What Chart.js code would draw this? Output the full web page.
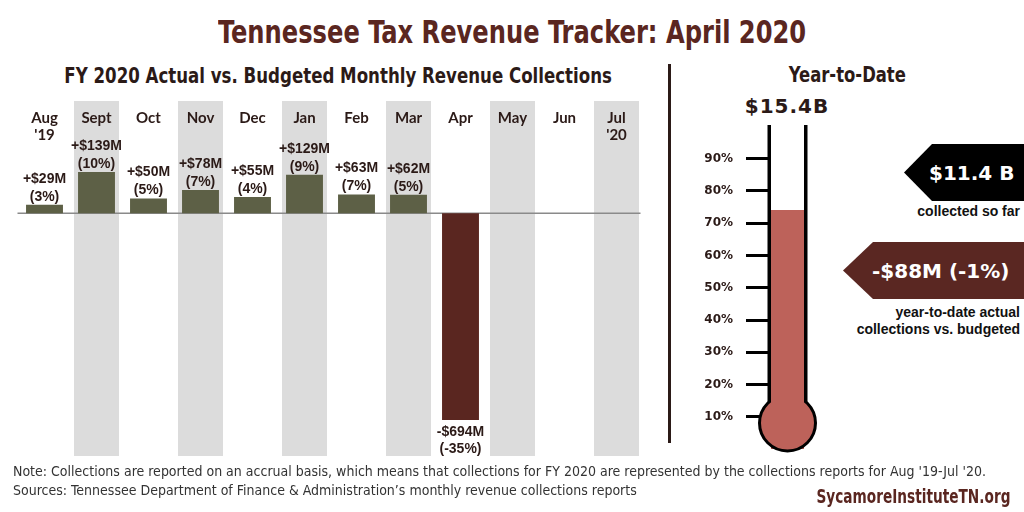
<!DOCTYPE html>
<html lang="en">
<head>
  <meta charset="UTF-8">
  <title>Tennessee Tax Revenue Tracker: April 2020</title>
  <script src="https://cdn.jsdelivr.net/npm/chart.js"></script>
  <style>
    body { margin: 0; background: #fff; font-family: "Liberation Sans", Arial, sans-serif; color: #2b1a17; }
    #page { position: relative; width: 1024px; height: 512px; overflow: hidden; }
    .abs { position: absolute; white-space: nowrap; }
    .narrow { font-family: "DejaVu Sans Condensed", "DejaVu Sans", sans-serif; font-stretch: condensed; font-weight: bold; }
    .squeeze { display: inline-block; transform-origin: center; }
    #title { left: 0; width: 1024px; top: 13px; text-align: center; font-size: 32px; color: #5a2620; }
    #title .squeeze { transform: scaleX(0.84); }
    #subtitle { left: 4px; width: 668px; top: 64px; text-align: center; font-size: 21px; }
    #subtitle .squeeze { transform: scaleX(0.88); }
    #ytdTitle { left: 670px; width: 354px; top: 63px; text-align: center; font-size: 21px; }
    #ytdTitle .squeeze { transform: scaleX(0.87); }
    #sep { left: 668px; top: 64px; width: 3px; height: 379px; background: #2b1a17; }
    #total { left: 727px; width: 120px; top: 94px; text-align: center; font-family: "DejaVu Sans", sans-serif; font-weight: bold; font-size: 20px; letter-spacing: 1px; }
    #barWrap { left: 0; top: 101px; width: 660px; height: 355px; }
    #thermoWrap { left: 700px; top: 116px; width: 120px; height: 350px; }
    .tag { display: flex; align-items: center; color: #fff; font-family: "DejaVu Sans", sans-serif; font-weight: bold; font-size: 20px; }
    #tagCollected { left: 904px; top: 144px; width: 120px; height: 57px; background: #000; padding-left: 25px; box-sizing: border-box;
      clip-path: polygon(28px 0, 100% 0, 100% 100%, 28px 100%, 0 50%); }
    #tagDiff { left: 843px; top: 242px; width: 181px; height: 57px; background: #5a2722; padding-left: 29px; box-sizing: border-box;
      clip-path: polygon(30px 0, 100% 0, 100% 100%, 30px 100%, 0 50%); }
    .cap { right: 4px; text-align: right; font-weight: bold; font-size: 14px; color: #111; line-height: 17px; }
    #note { left: 13px; top: 462px; font-family: "DejaVu Sans Condensed", "DejaVu Sans", sans-serif; font-stretch: condensed; font-size: 14px; line-height: 19px; color: #333; }
    #brand { right: 14px; top: 485px; font-size: 19px; color: #5a2620; }
    #brand .squeeze { transform-origin: right center; transform: scaleX(0.8); }
  </style>
</head>
<body>
<div id="page">
  <div class="abs narrow" id="title"><span class="squeeze">Tennessee Tax Revenue Tracker: April 2020</span></div>
  <div class="abs narrow" id="subtitle"><span class="squeeze">FY 2020 Actual vs. Budgeted Monthly Revenue Collections</span></div>
  <div class="abs narrow" id="ytdTitle"><span class="squeeze">Year-to-Date</span></div>
  <div class="abs" id="sep"></div>
  <div class="abs" id="total"></div>

  <div class="abs" id="barWrap"><canvas id="monthChart"></canvas></div>
  <div class="abs" id="thermoWrap"><canvas id="thermoChart"></canvas></div>

  <div class="abs tag" id="tagCollected"></div>
  <div class="abs cap" style="top:203px">collected so far</div>
  <div class="abs tag" id="tagDiff"></div>
  <div class="abs cap" style="top:304px">year-to-date actual<br>collections vs. budgeted</div>

  <div class="abs" id="note">Note: Collections are reported on an accrual basis, which means that collections for FY 2020 are represented by the collections reports for Aug '19-Jul '20.<br>Sources: Tennessee Department of Finance &amp; Administration’s monthly revenue collections reports</div>
  <div class="abs narrow" id="brand"><span class="squeeze">SycamoreInstituteTN.org</span></div>
</div>

<script>
  // monthly actual minus budget
  const months = [["Aug", "'19"], "Sept", "Oct", "Nov", "Dec", "Jan", "Feb", "Mar", "Apr", "May", "Jun", ["Jul", "'20"]];
  const diffMillions = [29, 139, 50, 78, 55, 129, 63, 62, -694, null, null, null];
  const diffPercent = [3, 10, 5, 7, 4, 9, 7, 5, -35, null, null, null];

  // year-to-date thermometer
  const ytdCollected = 11.4;   // $B
  const ytdBudget = 15.4;      // $B
  const ytdDiffMillions = -88;
  const ytdDiffPercent = -1;
  const thermoTicks = [10, 20, 30, 40, 50, 60, 70, 80, 90];

  const dark = "#2b1a17";
  const olive = "#5d6046";
  const maroon = "#5a2620";

  document.getElementById("total").textContent = "$" + ytdBudget.toFixed(1) + "B";
  document.getElementById("tagCollected").textContent = "$" + ytdCollected.toFixed(1) + " B";
  document.getElementById("tagDiff").textContent = "-$" + Math.abs(ytdDiffMillions) + "M (" + ytdDiffPercent + "%)";

  const fmtMoney = v => (v < 0 ? "-$" : "+$") + Math.abs(v) + "M";

  const bandsPlugin = {
    id: "bands",
    beforeDatasetsDraw(chart) {
      const { ctx, chartArea, scales } = chart;
      ctx.save();
      ctx.fillStyle = "#dcdcdc";
      months.forEach((m, i) => {
        if (i % 2 === 1) {
          const cx = scales.x.getPixelForValue(i);
          ctx.fillRect(cx - 22.5, chartArea.top, 45, chartArea.bottom - chartArea.top);
        }
      });
      // zero line
      const y0 = scales.y.getPixelForValue(0);
      ctx.strokeStyle = "#8a8a8a";
      ctx.lineWidth = 1.5;
      ctx.beginPath();
      ctx.moveTo(chartArea.left - 1, y0);
      ctx.lineTo(chartArea.right - 2, y0);
      ctx.stroke();
      // month names
      ctx.fillStyle = dark;
      ctx.font = "bold 15px Lato, sans-serif";
      ctx.textAlign = "center";
      ctx.textBaseline = "middle";
      months.forEach((m, i) => {
        const cx = scales.x.getPixelForValue(i);
        const lines = Array.isArray(m) ? m : [m];
        lines.forEach((t, k) => ctx.fillText(t, cx, chartArea.top + 17 + k * 17));
      });
      ctx.restore();
    },
    afterDatasetsDraw(chart) {
      const { ctx } = chart;
      const meta = chart.getDatasetMeta(0);
      ctx.save();
      ctx.fillStyle = dark;
      ctx.font = "bold 14px 'Liberation Sans', Arial, sans-serif";
      ctx.textAlign = "center";
      ctx.textBaseline = "middle";
      meta.data.forEach((bar, i) => {
        const v = diffMillions[i];
        if (v === null) return;
        const l1 = fmtMoney(v), l2 = "(" + diffPercent[i] + "%)";
        if (v >= 0) {
          ctx.fillText(l1, bar.x, bar.y - 26);
          ctx.fillText(l2, bar.x, bar.y - 8);
        } else {
          ctx.fillText(l1, bar.x, bar.y + 12);
          ctx.fillText(l2, bar.x, bar.y + 29);
        }
      });
      ctx.restore();
    }
  };

  new Chart(document.getElementById("monthChart"), {
    type: "bar",
    data: {
      labels: months,
      datasets: [{
        data: diffMillions,
        backgroundColor: diffMillions.map(v => v < 0 ? maroon : olive),
        barPercentage: 0.71,
        categoryPercentage: 1
      }]
    },
    options: {
      responsive: true,
      maintainAspectRatio: false,
      animation: false,
      layout: { padding: { left: 18.5, right: 17.5, top: 0, bottom: 0 } },
      plugins: { legend: { display: false }, tooltip: { enabled: false } },
      scales: {
        x: { display: false },
        y: { display: false, min: -815, max: 377 }
      }
    },
    plugins: [bandsPlugin]
  });

  const fillRed = "#bd625a";
  const thermoPlugin = {
    id: "thermo",
    afterDatasetsDraw(chart) {
      const { ctx, chartArea } = chart;
      const left = chartArea.left - 1.75, right = chartArea.right + 1.75;
      const cx = (left + right) / 2, cy = chartArea.bottom - 26, r = 28;
      ctx.save();
      ctx.strokeStyle = "#000";
      ctx.lineWidth = 3.5;
      ctx.beginPath();
      ctx.moveTo(left, chartArea.top - 1.5);
      ctx.lineTo(left, cy - 20);
      ctx.moveTo(right, chartArea.top - 1.5);
      ctx.lineTo(right, cy - 20);
      ctx.stroke();
      ctx.fillStyle = fillRed;
      ctx.lineWidth = 3;
      ctx.beginPath();
      ctx.arc(cx, cy, r, 0, Math.PI * 2);
      ctx.fill();
      ctx.stroke();
      ctx.fillRect(chartArea.left, cy - 40, chartArea.right - chartArea.left, 40);
      ctx.restore();
    }
  };

  new Chart(document.getElementById("thermoChart"), {
    type: "bar",
    data: {
      labels: ["YTD"],
      datasets: [{
        data: [ytdCollected / ytdBudget * 100],
        backgroundColor: fillRed,
        barPercentage: 1,
        categoryPercentage: 1
      }]
    },
    options: {
      responsive: true,
      maintainAspectRatio: false,
      animation: false,
      layout: { padding: { left: 0, right: 16, top: 10.5, bottom: 17 } },
      plugins: { legend: { display: false }, tooltip: { enabled: false } },
      scales: {
        x: { display: false },
        y: {
          min: 0, max: 100,
          afterBuildTicks: s => { s.ticks = thermoTicks.map(v => ({ value: v })); },
          afterFit: s => { s.width = 71; s.paddingTop = 0; s.paddingBottom = 0; },
          border: { display: false },
          grid: { drawOnChartArea: false, drawTicks: true, tickLength: 25, color: "#000", lineWidth: 3 },
          ticks: {
            padding: 13,
            color: dark,
            font: { family: "'DejaVu Sans', sans-serif", weight: "bold", size: 12 },
            callback: v => v + "%"
          }
        }
      }
    },
    plugins: [thermoPlugin]
  });
</script>
</body>
</html>
